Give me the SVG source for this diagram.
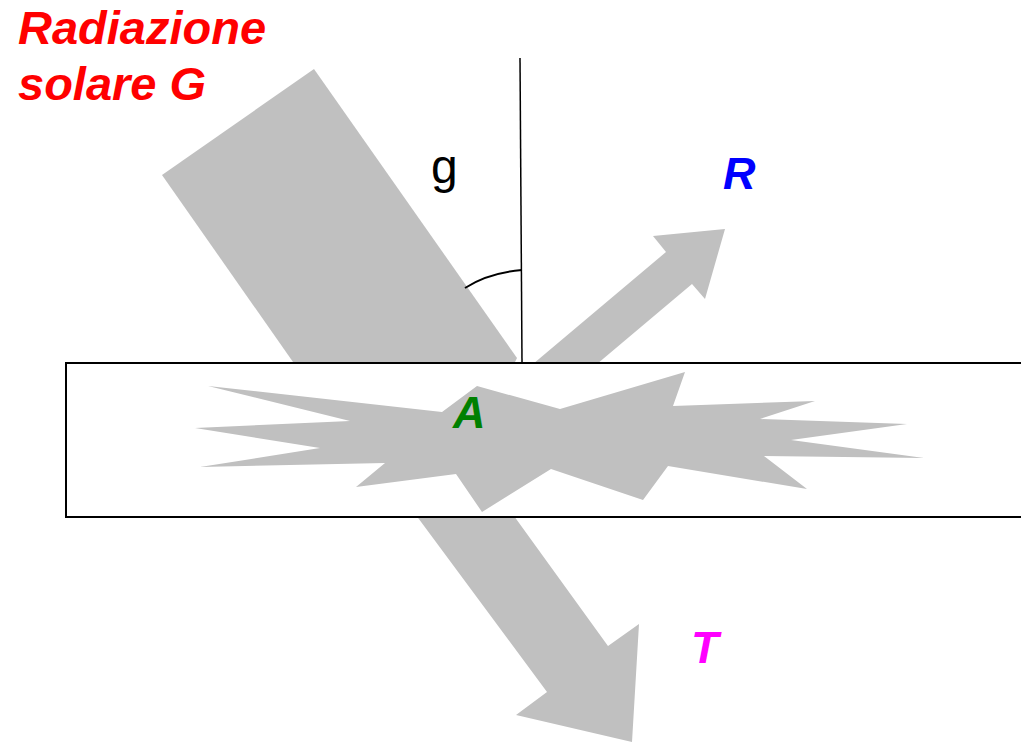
<svg xmlns="http://www.w3.org/2000/svg" width="1021" height="743" viewBox="0 0 1021 743">
  <style>
    .ray { fill: #c0c0c0; stroke: none; }
    .lbl { font-family: "Liberation Sans", Arial, sans-serif; font-weight: bold; font-style: italic; font-size: 45px; }
    .title { font-size: 47px; }
    .line { fill: none; stroke: #000; }
  </style>
  <rect width="1021" height="743" fill="#fff"/>
  <g id="connectors">
    <polygon id="beam-in" class="ray" points="314,69 162,175 293,362 515,362 517,358"/>
    <polygon id="arrow-T" class="ray" points="390,480 488,480 608,646 639,624 632,742 516,715 547,692"/>
    <polygon id="arrow-R" class="ray" points="514,380 666,252 653,236 725,229 705,299 692,284 578,380"/>
    <line class="line" x1="520" y1="58" x2="522" y2="362" stroke-width="1.5"/>
    <path class="line" d="M465,288 Q488,273 522,270" stroke-width="2"/>
  </g>
  <g id="layer">
    <rect x="66" y="363" width="970" height="154" fill="#fff" stroke="#000" stroke-width="2"/>
  </g>
  <g id="absorption">
    <polygon class="ray" points="208,386 442,412 477,386 560,409 685,372 673,406 815,401 760,419 907,424 791,440 924,458 764,456 807,489 668,466 643,500 551,469 482,512 456,474 356,487 385,463 200,467 320,448 195,428 350,421"/>
  </g>
  <g id="label-G">
    <text class="lbl title" fill="#ff0000" x="18" y="44">Radiazione</text>
    <text class="lbl title" fill="#ff0000" x="18" y="100">solare G</text>
  </g>
  <g id="label-g">
    <text x="431" y="183" font-family="Liberation Sans, Arial, sans-serif" font-size="48" fill="#000">g</text>
  </g>
  <g id="label-R">
    <text class="lbl" fill="#0000ff" x="723" y="189">R</text>
  </g>
  <g id="label-A">
    <text class="lbl" fill="#008000" x="453" y="428">A</text>
  </g>
  <g id="label-T">
    <text class="lbl" fill="#ff00ff" x="691" y="663">T</text>
  </g>
</svg>
